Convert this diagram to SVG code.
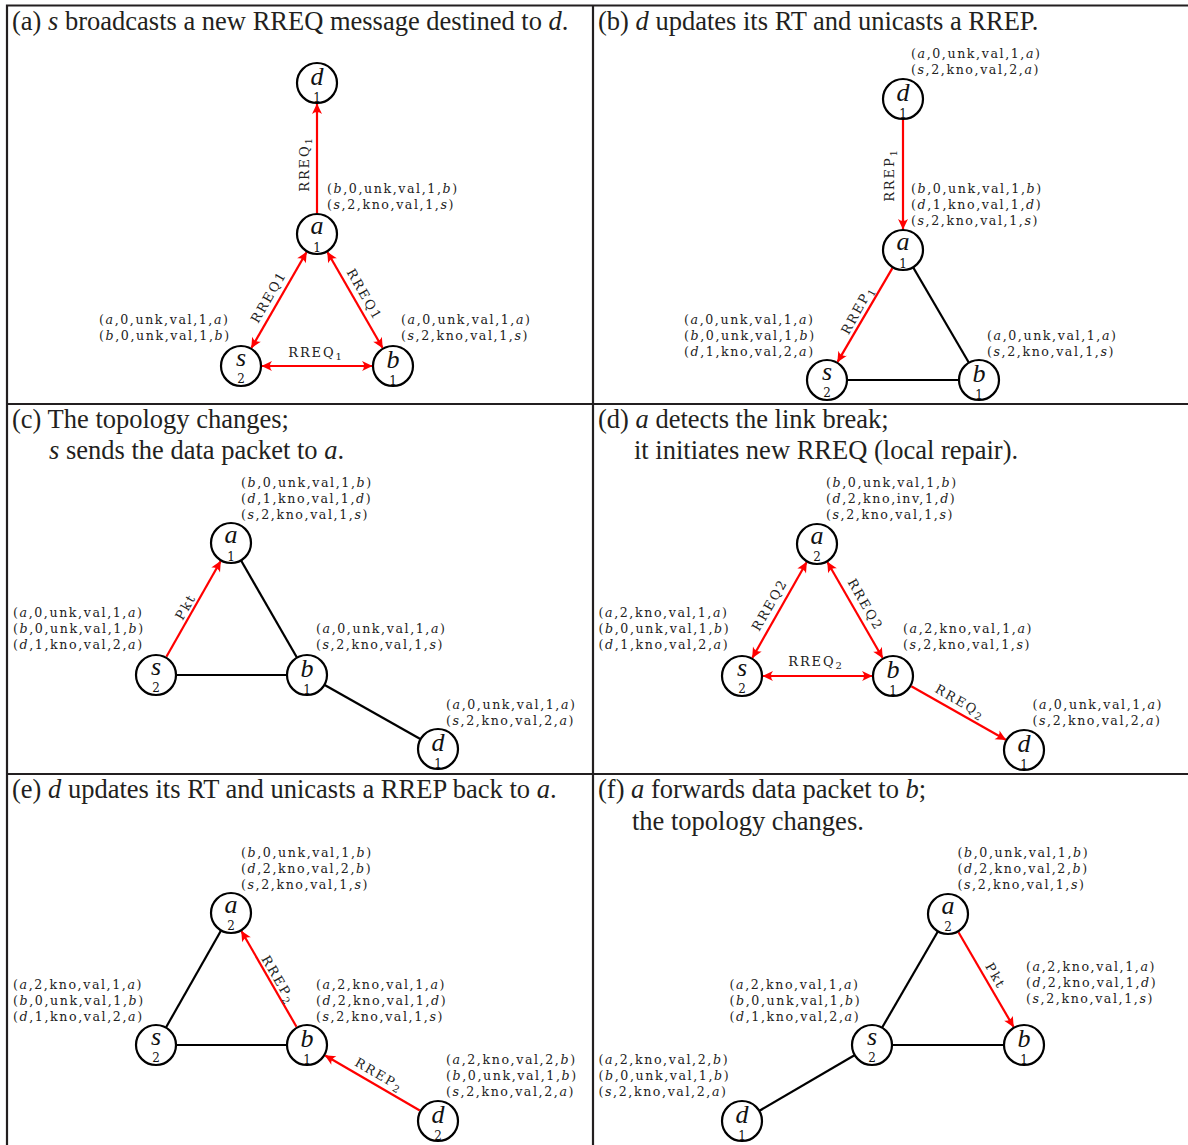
<svg xmlns="http://www.w3.org/2000/svg" width="1188" height="1145" viewBox="0 0 1188 1145">
<style>
.frame{fill:none;stroke:#231f20;stroke-width:2.2}
.title{font-family:"Liberation Serif","Times New Roman",serif;font-size:26.5px;fill:#231f20}
.it{font-style:italic}
.node circle{fill:#fff;stroke:#000;stroke-width:2.2}
.lbl{font-family:"Liberation Serif",serif;font-style:italic;font-size:26px;text-anchor:middle;fill:#111}
.num{font-family:"DejaVu Serif",serif;font-size:12px;text-anchor:middle;fill:#111}
.tab{font-family:"DejaVu Serif",serif;font-size:12.6px;letter-spacing:1.6px;fill:#222}
.el{font-family:"DejaVu Serif",serif;font-size:13px;letter-spacing:1.9px;text-anchor:middle;fill:#222}
.sub{font-size:10px}
.red{stroke:#f00;stroke-width:2.2;fill:none}
.blk{stroke:#000;stroke-width:2.2;fill:none}
.one{marker-end:url(#ah)}
.two{marker-start:url(#ah);marker-end:url(#ah)}
</style>
<defs>
<marker id="ah" viewBox="-12 -7 14 14" refX="0" refY="0" markerWidth="14" markerHeight="14" markerUnits="userSpaceOnUse" orient="auto-start-reverse">
<path d="M0.5,0 L-10,-5 Q-6,0 -10,5 Z" fill="#f00"/>
</marker>
</defs>
<rect width="1188" height="1145" fill="#fff"/>
<g id="frame">
<path class="frame" d="M7,1145 V5.5 H1188 M593,5.5 V1145 M7,404 H1188 M7,774 H1188"/>
</g>
<g id="titles">
<text class="title" x="12" y="30">(a) <tspan class="it">s</tspan> broadcasts a new RREQ message destined to <tspan class="it">d</tspan>.</text>
<text class="title" x="598" y="30">(b) <tspan class="it">d</tspan> updates its RT and unicasts a RREP.</text>
<text class="title" x="12" y="428">(c) The topology changes;</text>
<text class="title" x="49" y="459"><tspan class="it">s</tspan> sends the data packet to <tspan class="it">a</tspan>.</text>
<text class="title" x="598" y="428">(d) <tspan class="it">a</tspan> detects the link break;</text>
<text class="title" x="634" y="459">it initiates new RREQ (local repair).</text>
<text class="title" x="12" y="798">(e) <tspan class="it">d</tspan> updates its RT and unicasts a RREP back to <tspan class="it">a</tspan>.</text>
<text class="title" x="598" y="798">(f) <tspan class="it">a</tspan> forwards data packet to <tspan class="it">b</tspan>;</text>
<text class="title" x="632" y="830">the topology changes.</text>
</g>
<g id="connectors">
<!-- (a) -->
<line class="red one" x1="317" y1="213" x2="317" y2="104"/>
<line class="red two" x1="251.5" y1="347.8" x2="306.5" y2="252.2"/>
<line class="red two" x1="327.5" y1="252.2" x2="382.5" y2="347.8"/>
<line class="red two" x1="262" y1="366" x2="372" y2="366"/>
<!-- (b) -->
<line class="red one" x1="903" y1="120" x2="903" y2="229"/>
<line class="red one" x1="892.4" y1="268.1" x2="837.6" y2="361.9"/>
<line class="blk" x1="903" y1="250" x2="979" y2="380"/>
<line class="blk" x1="827" y1="380" x2="979" y2="380"/>
<!-- (c) -->
<line class="red one" x1="166.4" y1="656.7" x2="220.6" y2="561.3"/>
<line class="blk" x1="231" y1="543" x2="307" y2="675"/>
<line class="blk" x1="156" y1="675" x2="307" y2="675"/>
<line class="blk" x1="307" y1="675" x2="438" y2="749"/>
<!-- (d) -->
<line class="red two" x1="752.4" y1="657.7" x2="806.6" y2="562.3"/>
<line class="red two" x1="827.5" y1="562.2" x2="882.5" y2="657.8"/>
<line class="red two" x1="763" y1="676" x2="872" y2="676"/>
<line class="red one" x1="911.3" y1="686.3" x2="1005.7" y2="739.7"/>
<!-- (e) -->
<line class="red one" x1="296.5" y1="1026.8" x2="241.5" y2="931.2"/>
<line class="red one" x1="419.8" y1="1110.5" x2="325.2" y2="1055.5"/>
<line class="blk" x1="156" y1="1045" x2="231" y2="913"/>
<line class="blk" x1="156" y1="1045" x2="307" y2="1045"/>
<!-- (f) -->
<line class="red one" x1="958.5" y1="932.2" x2="1013.5" y2="1026.8"/>
<line class="blk" x1="872" y1="1045" x2="948" y2="914"/>
<line class="blk" x1="872" y1="1045" x2="1024" y2="1045"/>
<line class="blk" x1="872" y1="1045" x2="742" y2="1121"/>
<!-- edge labels -->
<text class="el" transform="translate(305,164) rotate(-90)" y="4">RREQ<tspan class="sub" dy="3">1</tspan></text>
<text class="el" transform="translate(269,297) rotate(-60)" y="4">RREQ1</text>
<text class="el" transform="translate(364,295) rotate(60)" y="4">RREQ1</text>
<text class="el" x="316" y="357">RREQ<tspan class="sub" dy="3">1</tspan></text>
<text class="el" transform="translate(889.5,175) rotate(-90)" y="4">RREP<tspan class="sub" dy="3">1</tspan></text>
<text class="el" transform="translate(858,310) rotate(-61)" y="4">RREP<tspan class="sub" dy="3">1</tspan></text>
<text class="el" transform="translate(186,607) rotate(-60)" y="4">Pkt</text>
<text class="el" transform="translate(770,605) rotate(-60)" y="4">RREQ2</text>
<text class="el" transform="translate(865,605) rotate(60)" y="4">RREQ2</text>
<text class="el" x="816" y="666">RREQ<tspan class="sub" dy="3">2</tspan></text>
<text class="el" transform="translate(960,702) rotate(30)" y="4">RREQ<tspan class="sub" dy="3">2</tspan></text>
<text class="el" transform="translate(278,980) rotate(60)" y="4">RREP<tspan class="sub" dy="3">2</tspan></text>
<text class="el" transform="translate(379,1075) rotate(30)" y="4">RREP<tspan class="sub" dy="3">2</tspan></text>
<text class="el" transform="translate(995,976) rotate(60)" y="4">Pkt</text>
</g>
<!-- Panel (a) nodes -->
<g id="a-d" class="node"><circle cx="317" cy="83" r="20"/><text class="lbl" x="317" y="85">d</text><text class="num" x="317" y="102">1</text></g>
<g id="a-a" class="node"><circle cx="317" cy="234" r="20"/><text class="lbl" x="317" y="234">a</text><text class="num" x="317" y="252">1</text>
<text class="tab" x="327" y="193">(<tspan class="it">b</tspan>,0,unk,val,1,<tspan class="it">b</tspan>)</text>
<text class="tab" x="327" y="209">(<tspan class="it">s</tspan>,2,kno,val,1,<tspan class="it">s</tspan>)</text></g>
<g id="a-s" class="node"><circle cx="241" cy="366" r="20"/><text class="lbl" x="241" y="366">s</text><text class="num" x="241" y="383">2</text>
<text class="tab" x="99" y="324">(<tspan class="it">a</tspan>,0,unk,val,1,<tspan class="it">a</tspan>)</text>
<text class="tab" x="99" y="340">(<tspan class="it">b</tspan>,0,unk,val,1,<tspan class="it">b</tspan>)</text></g>
<g id="a-b" class="node"><circle cx="393" cy="366" r="20"/><text class="lbl" x="393" y="368">b</text><text class="num" x="393" y="385">1</text>
<text class="tab" x="401" y="324">(<tspan class="it">a</tspan>,0,unk,val,1,<tspan class="it">a</tspan>)</text>
<text class="tab" x="401" y="340">(<tspan class="it">s</tspan>,2,kno,val,1,<tspan class="it">s</tspan>)</text></g>
<!-- Panel (b) nodes -->
<g id="b-d" class="node"><circle cx="903" cy="99" r="20"/><text class="lbl" x="903" y="101">d</text><text class="num" x="903" y="118">1</text>
<text class="tab" x="911" y="58">(<tspan class="it">a</tspan>,0,unk,val,1,<tspan class="it">a</tspan>)</text>
<text class="tab" x="911" y="74">(<tspan class="it">s</tspan>,2,kno,val,2,<tspan class="it">a</tspan>)</text></g>
<g id="b-a" class="node"><circle cx="903" cy="250" r="20"/><text class="lbl" x="903" y="250">a</text><text class="num" x="903" y="268">1</text>
<text class="tab" x="911" y="193">(<tspan class="it">b</tspan>,0,unk,val,1,<tspan class="it">b</tspan>)</text>
<text class="tab" x="911" y="209">(<tspan class="it">d</tspan>,1,kno,val,1,<tspan class="it">d</tspan>)</text>
<text class="tab" x="911" y="225">(<tspan class="it">s</tspan>,2,kno,val,1,<tspan class="it">s</tspan>)</text></g>
<g id="b-s" class="node"><circle cx="827" cy="380" r="20"/><text class="lbl" x="827" y="380">s</text><text class="num" x="827" y="397">2</text>
<text class="tab" x="684" y="324">(<tspan class="it">a</tspan>,0,unk,val,1,<tspan class="it">a</tspan>)</text>
<text class="tab" x="684" y="340">(<tspan class="it">b</tspan>,0,unk,val,1,<tspan class="it">b</tspan>)</text>
<text class="tab" x="684" y="356">(<tspan class="it">d</tspan>,1,kno,val,2,<tspan class="it">a</tspan>)</text></g>
<g id="b-b" class="node"><circle cx="979" cy="380" r="20"/><text class="lbl" x="979" y="382">b</text><text class="num" x="979" y="399">1</text>
<text class="tab" x="987" y="340">(<tspan class="it">a</tspan>,0,unk,val,1,<tspan class="it">a</tspan>)</text>
<text class="tab" x="987" y="356">(<tspan class="it">s</tspan>,2,kno,val,1,<tspan class="it">s</tspan>)</text></g>
<!-- Panel (c) nodes -->
<g id="c-a" class="node"><circle cx="231" cy="543" r="20"/><text class="lbl" x="231" y="543">a</text><text class="num" x="231" y="561">1</text>
<text class="tab" x="241" y="487">(<tspan class="it">b</tspan>,0,unk,val,1,<tspan class="it">b</tspan>)</text>
<text class="tab" x="241" y="503">(<tspan class="it">d</tspan>,1,kno,val,1,<tspan class="it">d</tspan>)</text>
<text class="tab" x="241" y="519">(<tspan class="it">s</tspan>,2,kno,val,1,<tspan class="it">s</tspan>)</text></g>
<g id="c-s" class="node"><circle cx="156" cy="675" r="20"/><text class="lbl" x="156" y="675">s</text><text class="num" x="156" y="692">2</text>
<text class="tab" x="13" y="617">(<tspan class="it">a</tspan>,0,unk,val,1,<tspan class="it">a</tspan>)</text>
<text class="tab" x="13" y="633">(<tspan class="it">b</tspan>,0,unk,val,1,<tspan class="it">b</tspan>)</text>
<text class="tab" x="13" y="649">(<tspan class="it">d</tspan>,1,kno,val,2,<tspan class="it">a</tspan>)</text></g>
<g id="c-b" class="node"><circle cx="307" cy="675" r="20"/><text class="lbl" x="307" y="677">b</text><text class="num" x="307" y="694">1</text>
<text class="tab" x="316" y="633">(<tspan class="it">a</tspan>,0,unk,val,1,<tspan class="it">a</tspan>)</text>
<text class="tab" x="316" y="649">(<tspan class="it">s</tspan>,2,kno,val,1,<tspan class="it">s</tspan>)</text></g>
<g id="c-d" class="node"><circle cx="438" cy="749" r="20"/><text class="lbl" x="438" y="751">d</text><text class="num" x="438" y="768">1</text>
<text class="tab" x="446" y="709">(<tspan class="it">a</tspan>,0,unk,val,1,<tspan class="it">a</tspan>)</text>
<text class="tab" x="446" y="725">(<tspan class="it">s</tspan>,2,kno,val,2,<tspan class="it">a</tspan>)</text></g>
<!-- Panel (d) nodes -->
<g id="d-a" class="node"><circle cx="817" cy="544" r="20"/><text class="lbl" x="817" y="544">a</text><text class="num" x="817" y="561">2</text>
<text class="tab" x="826" y="487">(<tspan class="it">b</tspan>,0,unk,val,1,<tspan class="it">b</tspan>)</text>
<text class="tab" x="826" y="503">(<tspan class="it">d</tspan>,2,kno,inv,1,<tspan class="it">d</tspan>)</text>
<text class="tab" x="826" y="519">(<tspan class="it">s</tspan>,2,kno,val,1,<tspan class="it">s</tspan>)</text></g>
<g id="d-s" class="node"><circle cx="742" cy="676" r="20"/><text class="lbl" x="742" y="676">s</text><text class="num" x="742" y="693">2</text>
<text class="tab" x="598.5" y="617">(<tspan class="it">a</tspan>,2,kno,val,1,<tspan class="it">a</tspan>)</text>
<text class="tab" x="598.5" y="633">(<tspan class="it">b</tspan>,0,unk,val,1,<tspan class="it">b</tspan>)</text>
<text class="tab" x="598.5" y="649">(<tspan class="it">d</tspan>,1,kno,val,2,<tspan class="it">a</tspan>)</text></g>
<g id="d-b" class="node"><circle cx="893" cy="676" r="20"/><text class="lbl" x="893" y="678">b</text><text class="num" x="893" y="695">1</text>
<text class="tab" x="903" y="633">(<tspan class="it">a</tspan>,2,kno,val,1,<tspan class="it">a</tspan>)</text>
<text class="tab" x="903" y="649">(<tspan class="it">s</tspan>,2,kno,val,1,<tspan class="it">s</tspan>)</text></g>
<g id="d-d" class="node"><circle cx="1024" cy="750" r="20"/><text class="lbl" x="1024" y="752">d</text><text class="num" x="1024" y="769">1</text>
<text class="tab" x="1032.5" y="709">(<tspan class="it">a</tspan>,0,unk,val,1,<tspan class="it">a</tspan>)</text>
<text class="tab" x="1032.5" y="725">(<tspan class="it">s</tspan>,2,kno,val,2,<tspan class="it">a</tspan>)</text></g>
<!-- Panel (e) nodes -->
<g id="e-a" class="node"><circle cx="231" cy="913" r="20"/><text class="lbl" x="231" y="913">a</text><text class="num" x="231" y="930">2</text>
<text class="tab" x="241" y="857">(<tspan class="it">b</tspan>,0,unk,val,1,<tspan class="it">b</tspan>)</text>
<text class="tab" x="241" y="873">(<tspan class="it">d</tspan>,2,kno,val,2,<tspan class="it">b</tspan>)</text>
<text class="tab" x="241" y="889">(<tspan class="it">s</tspan>,2,kno,val,1,<tspan class="it">s</tspan>)</text></g>
<g id="e-s" class="node"><circle cx="156" cy="1045" r="20"/><text class="lbl" x="156" y="1045">s</text><text class="num" x="156" y="1062">2</text>
<text class="tab" x="13" y="989">(<tspan class="it">a</tspan>,2,kno,val,1,<tspan class="it">a</tspan>)</text>
<text class="tab" x="13" y="1005">(<tspan class="it">b</tspan>,0,unk,val,1,<tspan class="it">b</tspan>)</text>
<text class="tab" x="13" y="1021">(<tspan class="it">d</tspan>,1,kno,val,2,<tspan class="it">a</tspan>)</text></g>
<g id="e-b" class="node"><circle cx="307" cy="1045" r="20"/><text class="lbl" x="307" y="1047">b</text><text class="num" x="307" y="1064">1</text>
<text class="tab" x="316" y="989">(<tspan class="it">a</tspan>,2,kno,val,1,<tspan class="it">a</tspan>)</text>
<text class="tab" x="316" y="1005">(<tspan class="it">d</tspan>,2,kno,val,1,<tspan class="it">d</tspan>)</text>
<text class="tab" x="316" y="1021">(<tspan class="it">s</tspan>,2,kno,val,1,<tspan class="it">s</tspan>)</text></g>
<g id="e-d" class="node"><circle cx="438" cy="1121" r="20"/><text class="lbl" x="438" y="1123">d</text><text class="num" x="438" y="1140">2</text>
<text class="tab" x="446" y="1064">(<tspan class="it">a</tspan>,2,kno,val,2,<tspan class="it">b</tspan>)</text>
<text class="tab" x="446" y="1080">(<tspan class="it">b</tspan>,0,unk,val,1,<tspan class="it">b</tspan>)</text>
<text class="tab" x="446" y="1096">(<tspan class="it">s</tspan>,2,kno,val,2,<tspan class="it">a</tspan>)</text></g>
<!-- Panel (f) nodes -->
<g id="f-a" class="node"><circle cx="948" cy="914" r="20"/><text class="lbl" x="948" y="914">a</text><text class="num" x="948" y="931">2</text>
<text class="tab" x="957.5" y="857">(<tspan class="it">b</tspan>,0,unk,val,1,<tspan class="it">b</tspan>)</text>
<text class="tab" x="957.5" y="873">(<tspan class="it">d</tspan>,2,kno,val,2,<tspan class="it">b</tspan>)</text>
<text class="tab" x="957.5" y="889">(<tspan class="it">s</tspan>,2,kno,val,1,<tspan class="it">s</tspan>)</text></g>
<g id="f-s" class="node"><circle cx="872" cy="1045" r="20"/><text class="lbl" x="872" y="1045">s</text><text class="num" x="872" y="1062">2</text>
<text class="tab" x="729.5" y="989">(<tspan class="it">a</tspan>,2,kno,val,1,<tspan class="it">a</tspan>)</text>
<text class="tab" x="729.5" y="1005">(<tspan class="it">b</tspan>,0,unk,val,1,<tspan class="it">b</tspan>)</text>
<text class="tab" x="729.5" y="1021">(<tspan class="it">d</tspan>,1,kno,val,2,<tspan class="it">a</tspan>)</text></g>
<g id="f-b" class="node"><circle cx="1024" cy="1045" r="20"/><text class="lbl" x="1024" y="1047">b</text><text class="num" x="1024" y="1064">1</text>
<text class="tab" x="1026" y="971">(<tspan class="it">a</tspan>,2,kno,val,1,<tspan class="it">a</tspan>)</text>
<text class="tab" x="1026" y="987">(<tspan class="it">d</tspan>,2,kno,val,1,<tspan class="it">d</tspan>)</text>
<text class="tab" x="1026" y="1003">(<tspan class="it">s</tspan>,2,kno,val,1,<tspan class="it">s</tspan>)</text></g>
<g id="f-d" class="node"><circle cx="742" cy="1121" r="20"/><text class="lbl" x="742" y="1123">d</text><text class="num" x="742" y="1140">1</text>
<text class="tab" x="598.5" y="1064">(<tspan class="it">a</tspan>,2,kno,val,2,<tspan class="it">b</tspan>)</text>
<text class="tab" x="598.5" y="1080">(<tspan class="it">b</tspan>,0,unk,val,1,<tspan class="it">b</tspan>)</text>
<text class="tab" x="598.5" y="1096">(<tspan class="it">s</tspan>,2,kno,val,2,<tspan class="it">a</tspan>)</text></g>
</svg>
